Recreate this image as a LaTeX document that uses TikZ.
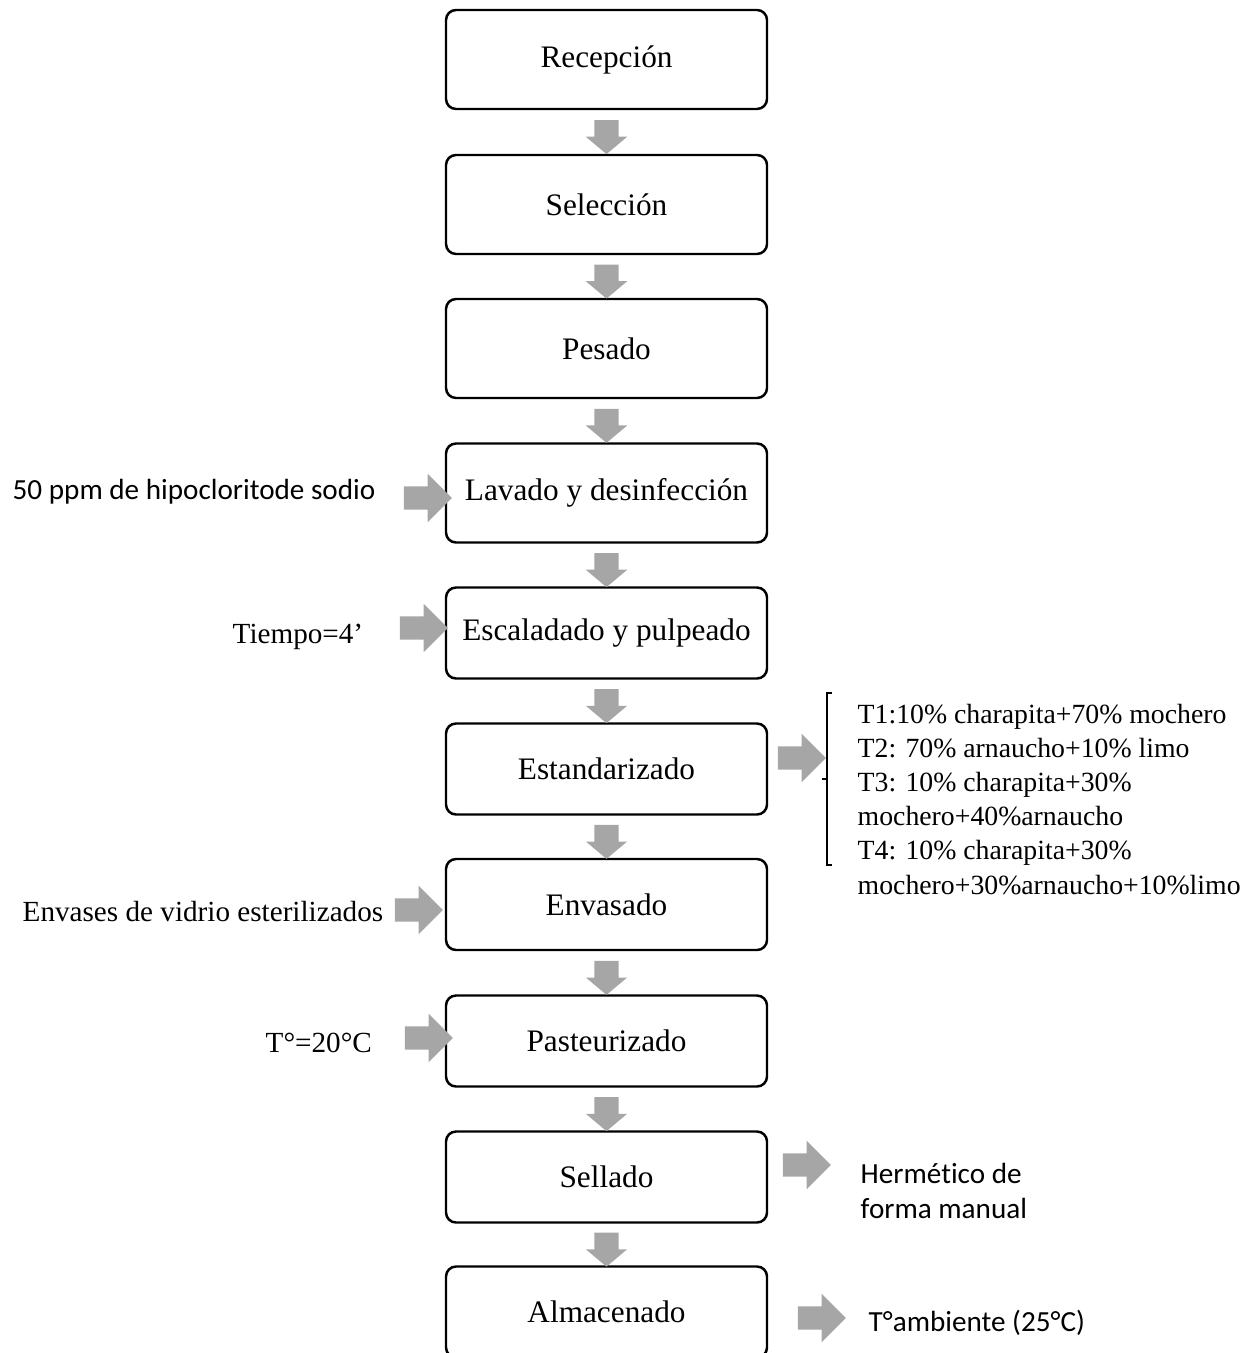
\documentclass[tikz,border=0pt]{standalone}
\usepackage{fontspec}
\setmainfont{Liberation Serif}
\newfontfamily\calibri[Ligatures=NoCommon]{Carlito}
\usepackage{tikz}
\usetikzlibrary{shapes,arrows}
\usetikzlibrary{calc}
\definecolor{grisflecha}{HTML}{A6A6A6}

\begin{document}
\begin{tikzpicture}[%
  x=0.1mm,y=-0.1mm,
  paso/.style={rectangle,draw,line width=0.7pt,rounded corners=1mm,
    minimum width=32.1mm,minimum height=9.1mm,inner sep=0pt,
    font=\fontsize{8.9}{10.7}\selectfont},
  alto/.style={minimum height=9.9mm},
  abajo/.style={single arrow,fill=grisflecha,inner xsep=0pt,inner ysep=1.15mm,
    rotate=-90,minimum height=3.4mm,single arrow head extend=0.85mm,
    single arrow tip angle=100},
  derecha/.style={single arrow,fill=grisflecha,inner xsep=0pt,inner ysep=1.1mm,
    minimum height=4.8mm,single arrow head extend=1.25mm},
  serif/.style={inner sep=0pt,anchor=base west,font=\fontsize{8.3}{10}\selectfont},
  sans/.style={inner sep=0pt,anchor=base west,align=left,
    font=\calibri\fontsize{8.3}{9.96}\selectfont},
  lista/.style={inner sep=0pt,anchor=base west,align=left,
    font=\fontsize{7.9}{9.73}\selectfont}]
    \useasboundingbox (0,0) rectangle (1239,1353);
    % Pasos del proceso
    \node[paso,alto] (recepcion) at (606.5,59.5) {Recepción};
    \node[paso,alto] (seleccion) at (606.5,204.5) {Selección};
    \node[paso,alto] (pesado) at (606.5,348.5) {Pesado};
    \node[paso,alto] (lavado) at (606.5,493) {Lavado y desinfección};
    \node[paso] (escaldado) at (606.5,633) {Escaladado y pulpeado};
    \node[paso] (estandarizado) at (606.5,769) {Estandarizado};
    \node[paso] (envasado) at (606.5,904.5) {Envasado};
    \node[paso] (pasteurizado) at (606.5,1041) {Pasteurizado};
    \node[paso] (sellado) at (606.5,1177) {Sellado};
    \node[paso] (almacenado) at (606.5,1312) {Almacenado};
    % Flechas entre pasos
    \foreach \a/\b in {recepcion/seleccion,seleccion/pesado,pesado/lavado,
      lavado/escaldado,escaldado/estandarizado,estandarizado/envasado,
      envasado/pasteurizado,pasteurizado/sellado,sellado/almacenado}
      \node[abajo] (f-\a) at ($(\a.south)!0.5!(\b.north)$) {};
    % Entradas
    \node[sans] (hipo) at (12,499) {50 ppm de hipocloritode sodio};
    \node[derecha] (f-hipo) at (422,498) {};
    \node[serif] (tiempo) at (232,643) {Tiempo=4’};
    \node[derecha] (f-tiempo) at (418,628) {};
    \node[serif] (envases) at (22,921) {Envases de vidrio esterilizados};
    \node[derecha] (f-envases) at (413,910) {};
    \node[serif] (temp) at (265,1052) {T°=20°C};
    \node[derecha] (f-temp) at (423,1038) {};
    % Salidas
    \node[derecha] (f-mezclas) at (796,758) {};
    \draw[line width=0.4pt] (832,693) -- (827,693) -- (827,865) -- (832,865)
      (827,779) -- (822,779);
    \node[lista] (mezclas) at (857,894) {T1:10\% charapita+70\% mochero\\
      T2: 70\% arnaucho+10\% limo\\
      T3: 10\% charapita+30\%\\
      mochero+40\%arnaucho\\
      T4: 10\% charapita+30\%\\
      mochero+30\%arnaucho+10\%limo};
    \node[derecha] (f-cierre) at (801,1165) {};
    \node[sans] (cierre) at (860,1218) {Hermético de\\forma manual};
    \node[derecha] (f-ambiente) at (816,1318) {};
    \node[sans] (ambiente) at (868,1331) {T°ambiente (25°C)};
\end{tikzpicture}
\end{document}
